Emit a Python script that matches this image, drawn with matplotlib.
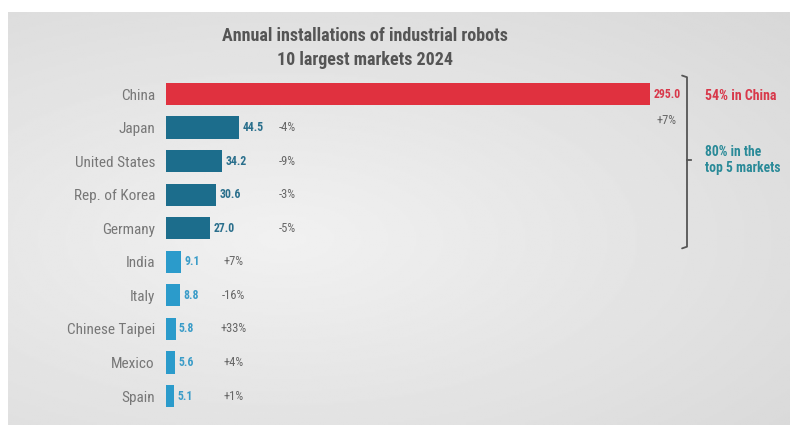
import numpy as np
import matplotlib
matplotlib.use("Agg")
import matplotlib.pyplot as plt
from matplotlib import font_manager as fm

countries = ["China", "Japan", "United States", "Rep. of Korea", "Germany",
             "India", "Italy", "Chinese Taipei", "Mexico", "Spain"]
values = [295.0, 44.5, 34.2, 30.6, 27.0, 9.1, 8.8, 5.8, 5.6, 5.1]
changes = ["+7%", "-4%", "-9%", "-3%", "-5%", "+7%", "-16%", "+33%", "+4%", "+1%"]
groups = ["china", "top5", "top5", "top5", "top5", "rest", "rest", "rest", "rest", "rest"]

colors = {"china": "#e0313f", "top5": "#1c6d8c", "rest": "#2b9bcb"}
label_colors = {"china": "#d8384a", "top5": "#2a6f8c", "rest": "#3a9cc8"}

# pick a narrow font if available
FAMILY, STRETCH = "DejaVu Sans", "condensed"
for fam in ["Liberation Sans Narrow", "Arial Narrow", "Roboto Condensed", "Open Sans Condensed"]:
    try:
        fm.findfont(fm.FontProperties(family=fam), fallback_to_default=False)
        FAMILY, STRETCH = fam, "normal"
        break
    except Exception:
        pass
plt.rcParams['font.family'] = [FAMILY, 'DejaVu Sans']
plt.rcParams['font.stretch'] = STRETCH

W, H = 796, 433
fig = plt.figure(figsize=(W / 100, H / 100), dpi=100)
fig.patch.set_facecolor("white")

# background panel with soft gradient
bg = fig.add_axes([8 / W, 1 - 425 / H, (790 - 8) / W, (425 - 12) / H])
yy, xx = np.mgrid[0:1:200j, 0:1:400j]
d = np.sqrt(((xx - 0.35) / 0.9) ** 2 + ((yy - 0.55) / 0.8) ** 2)
img = 0.945 - 0.10 * d
bg.imshow(img, cmap="gray", vmin=0, vmax=1, aspect="auto", extent=[0, 1, 0, 1])
bg.set_axis_off()

x0, x1 = 166, 790
px_per_unit = (650 - 166) / 295.0
xmax = (x1 - x0) / px_per_unit
row0, step = 94, 33.56
top_px = row0 - 0.5 * step
bot_px = row0 + 9.5 * step
ax = fig.add_axes([x0 / W, 1 - bot_px / H, (x1 - x0) / W, (bot_px - top_px) / H])
ax.set_xlim(0, xmax)
ax.set_ylim(9.5, -0.5)
ax.patch.set_alpha(0)
for s in ax.spines.values():
    s.set_visible(False)
ax.set_xticks([])
ax.set_yticks(range(len(countries)))
ax.set_yticklabels(countries, fontsize=11, color="#777777")
ax.tick_params(axis="y", length=0, pad=8)

y = np.arange(len(countries))
bar_colors = [colors[g] for g in groups]
ax.barh(y, values, height=0.66, color=bar_colors)

for i, (v, c, g) in enumerate(zip(values, changes, groups)):
    ax.text(v + 2.0, i, f"{v:.1f}", va="center", ha="left", fontsize=8.5,
            color=label_colors[g], fontweight="bold")
    if g == "china":
        ax.text(v + 10, i + 0.78, c, va="center", ha="center", fontsize=9, color="#666666")
    elif g == "top5":
        ax.text(74, i, c, va="center", ha="center", fontsize=9, color="#666666")
    else:
        ax.text(41, i, c, va="center", ha="center", fontsize=9, color="#666666")

# bracket
bx = (687 - x0) / px_per_unit
ax.plot([bx - 3, bx, bx, bx - 3], [-0.55, -0.5, 4.55, 4.6], color="#555555", lw=1.3,
        solid_capstyle="round", clip_on=False)
ax.plot([bx, bx + 2.5], [1.97, 1.97], color="#555555", lw=1.3, clip_on=False)
ax.text(bx + 11, 0.05, "54% in China", va="center", ha="left", fontsize=10,
        color="#d8384a", fontweight="bold")
ax.text(bx + 11, 1.97, "80% in the\ntop 5 markets", va="center", ha="left", fontsize=9.8,
        color="#2a8a98", fontweight="bold", linespacing=1.2)

fig.text(365 / W, 1 - 36 / H, "Annual installations of industrial robots", ha="center",
         va="center", fontsize=13, color="#555555", fontweight="bold")
fig.text(365 / W, 1 - 60 / H, "10 largest markets 2024", ha="center",
         va="center", fontsize=13, color="#555555", fontweight="bold")

fig.savefig("out.png", dpi=100, facecolor="white")
